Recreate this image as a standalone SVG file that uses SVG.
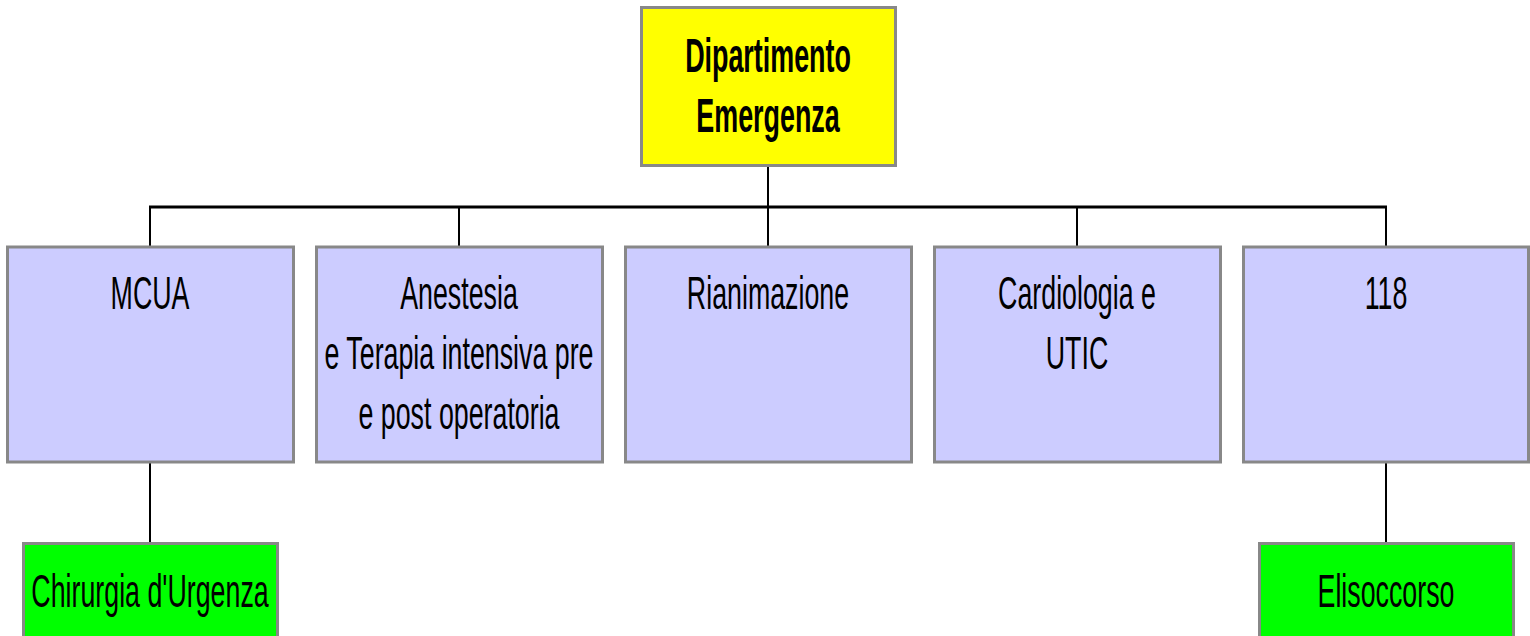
<svg xmlns="http://www.w3.org/2000/svg" width="1530" height="636" viewBox="0 0 1530 636">
<style>
.box{stroke:#888888;stroke-width:3}
.top{fill:#FFFF00}
.mid{fill:#CCCCFF}
.leaf{fill:#00FF00}
.lbl{font-family:"Liberation Sans",Arial,sans-serif;font-size:47px;fill:#000;text-anchor:middle}
.bold{font-weight:bold;font-size:48px}
.conn{stroke:#000;fill:none}
</style>
<rect width="1530" height="636" fill="#FFFFFF"/>
<g id="connectors">
<line class="conn" x1="768" y1="166" x2="768" y2="207" stroke-width="2"/>
<line class="conn" x1="149" y1="207" x2="1387" y2="207" stroke-width="3"/>
<line class="conn" x1="150" y1="207" x2="150" y2="246" stroke-width="2"/>
<line class="conn" x1="459" y1="207" x2="459" y2="246" stroke-width="2"/>
<line class="conn" x1="768" y1="207" x2="768" y2="246" stroke-width="2"/>
<line class="conn" x1="1077" y1="207" x2="1077" y2="246" stroke-width="2"/>
<line class="conn" x1="1386" y1="207" x2="1386" y2="246" stroke-width="2"/>
<line class="conn" x1="150" y1="463" x2="150" y2="543" stroke-width="2"/>
<line class="conn" x1="1386" y1="463" x2="1386" y2="543" stroke-width="2"/>
</g>
<g id="dipartimento">
<rect class="box top" x="641.5" y="7.5" width="254" height="158"/>
<text class="lbl bold" transform="translate(768,0) scale(0.56,1)" x="0" y="72">Dipartimento</text>
<text class="lbl bold" transform="translate(768,0) scale(0.56,1)" x="0" y="132">Emergenza</text>
</g>
<g id="mcua">
<rect class="box mid" x="7.5" y="247" width="286" height="215"/>
<text class="lbl" transform="translate(150,0) scale(0.57,1)" x="0" y="309">MCUA</text>
</g>
<g id="anestesia">
<rect class="box mid" x="316.5" y="247" width="286" height="215"/>
<text class="lbl" transform="translate(459,0) scale(0.57,1)" x="0" y="309">Anestesia</text>
<text class="lbl" transform="translate(459,0) scale(0.57,1)" x="0" y="369">e Terapia intensiva pre</text>
<text class="lbl" transform="translate(459,0) scale(0.57,1)" x="0" y="429">e post operatoria</text>
</g>
<g id="rianimazione">
<rect class="box mid" x="625.5" y="247" width="286" height="215"/>
<text class="lbl" transform="translate(768,0) scale(0.57,1)" x="0" y="309">Rianimazione</text>
</g>
<g id="cardiologia">
<rect class="box mid" x="934.5" y="247" width="286" height="215"/>
<text class="lbl" transform="translate(1077,0) scale(0.57,1)" x="0" y="309">Cardiologia e</text>
<text class="lbl" transform="translate(1077,0) scale(0.57,1)" x="0" y="369">UTIC</text>
</g>
<g id="n118">
<rect class="box mid" x="1243.5" y="247" width="285" height="215"/>
<text class="lbl" transform="translate(1386,0) scale(0.57,1)" x="0" y="309">118</text>
</g>
<g id="chirurgia">
<rect class="box leaf" x="23.5" y="543.5" width="254" height="100"/>
<text class="lbl" transform="translate(150,0) scale(0.57,1)" x="0" y="607">Chirurgia d'Urgenza</text>
</g>
<g id="elisoccorso">
<rect class="box leaf" x="1259.5" y="543.5" width="254" height="100"/>
<text class="lbl" transform="translate(1386,0) scale(0.57,1)" x="0" y="607">Elisoccorso</text>
</g>
</svg>
